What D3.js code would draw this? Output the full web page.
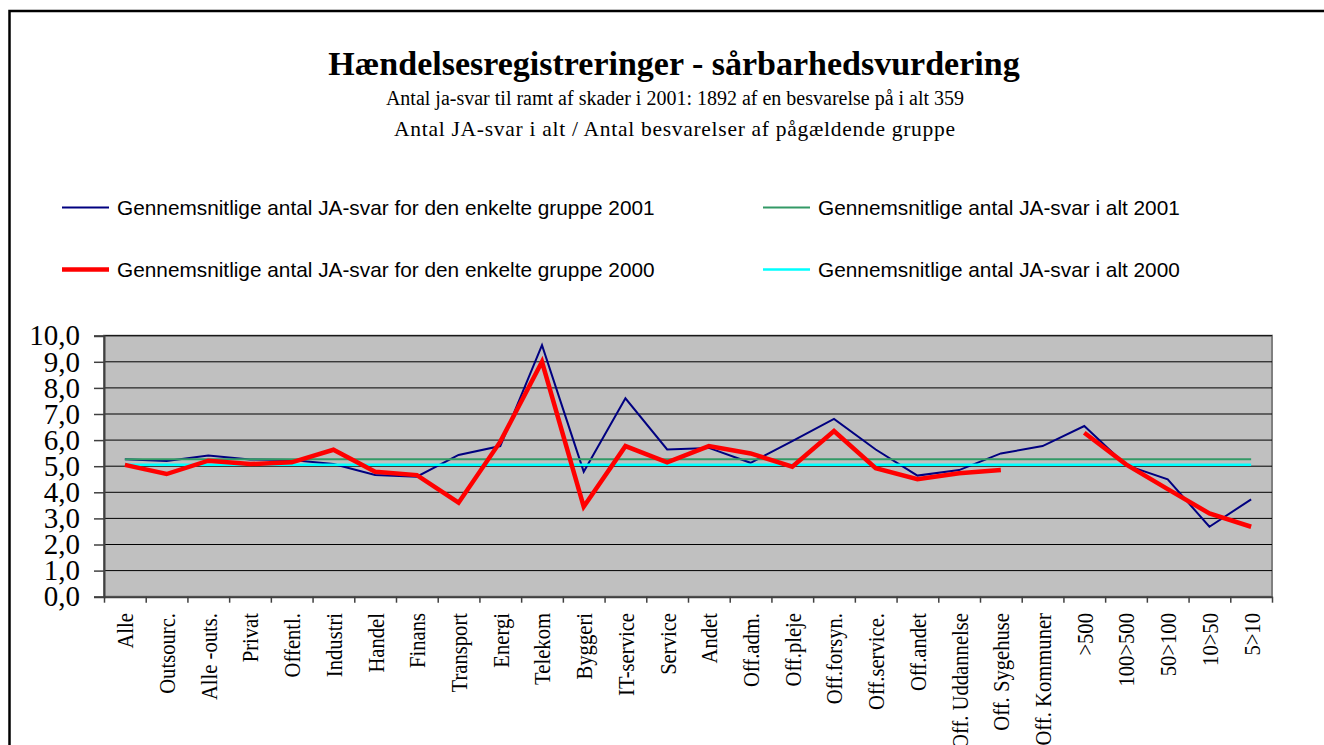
<!DOCTYPE html>
<html>
<head>
<meta charset="utf-8">
<script src="https://cdnjs.cloudflare.com/ajax/libs/d3/7.8.5/d3.min.js"></script>
<style>
    body { margin: 0; background: #fff; }
    svg { display: block; }
</style>
</head>
<body>
<svg id="chart" width="1324" height="745"></svg>
<script>

// categories along the x axis
var categories = ["Alle", "Outsourc.", "Alle -outs.", "Privat", "Offentl.", "Industri", "Handel",
    "Finans", "Transport", "Energi", "Telekom", "Byggeri", "IT-service", "Service", "Andet",
    "Off.adm.", "Off.pleje", "Off.forsyn.", "Off.service.", "Off.andet", "Off. Uddannelse",
    "Off. Sygehuse", "Off. Kommuner", ">500", "100>500", "50>100", "10>50", "5>10"];

// average JA answers per group
var group2001 = [5.27, 5.20, 5.41, 5.26, 5.24, 5.08, 4.66, 4.60, 5.43, 5.77, 9.64, 4.79, 7.60, 5.64,
    5.70, 5.13, 5.96, 6.81, 5.64, 4.64, 4.85, 5.49, 5.77, 6.54, 5.04, 4.50, 2.68, 3.73];
var group2000 = [5.05, 4.70, 5.21, 5.08, 5.15, 5.63, 4.79, 4.66, 3.60, 5.94, 9.00, 3.45, 5.77, 5.15,
    5.77, 5.49, 4.98, 6.35, 4.92, 4.50, 4.73, 4.85, null, 6.28, 5.07, 4.12, 3.19, 2.68];

// overall average, same for every group
var total2001 = [5.27, 5.27, 5.27, 5.27, 5.27, 5.27, 5.27, 5.27, 5.27, 5.27, 5.27, 5.27, 5.27, 5.27,
    5.27, 5.27, 5.27, 5.27, 5.27, 5.27, 5.27, 5.27, 5.27, 5.27, 5.27, 5.27, 5.27, 5.27];
var total2000 = [5.06, 5.06, 5.06, 5.06, 5.06, 5.06, 5.06, 5.06, 5.06, 5.06, 5.06, 5.06, 5.06, 5.06,
    5.06, 5.06, 5.06, 5.06, 5.06, 5.06, 5.06, 5.06, 5.06, 5.06, 5.06, 5.06, 5.06, 5.06];

var yTicks = [0, 1, 2, 3, 4, 5, 6, 7, 8, 9, 10];

var legendLabels = [
    "Gennemsnitlige antal JA-svar for den enkelte gruppe 2001",
    "Gennemsnitlige antal JA-svar i alt 2001",
    "Gennemsnitlige antal JA-svar for den enkelte gruppe 2000",
    "Gennemsnitlige antal JA-svar i alt 2000"
];

var serif = "'Liberation Serif', 'Times New Roman', serif";
var sans = "'Liberation Sans', Arial, sans-serif";

var svg = d3.select("#chart");

// outer frame (runs off the right and bottom edge)
svg.append("rect")
    .attr("x", 9.5).attr("y", 11)
    .attr("width", 1400).attr("height", 800)
    .attr("fill", "none")
    .attr("stroke", "#000")
    .attr("stroke-width", 2.5);

// titles
svg.append("text")
    .attr("x", 674).attr("y", 75)
    .attr("text-anchor", "middle")
    .style("font-family", serif).style("font-size", "34px").style("font-weight", "bold")
    .text("Hændelsesregistreringer - sårbarhedsvurdering");

svg.append("text")
    .attr("x", 675).attr("y", 105)
    .attr("text-anchor", "middle")
    .style("font-family", serif).style("font-size", "20px")
    .text("Antal ja-svar til ramt af skader i 2001: 1892 af en besvarelse på i alt 359");

svg.append("text")
    .attr("x", 394).attr("y", 136)
    .attr("textLength", 561)
    .attr("lengthAdjust", "spacing")
    .style("font-family", serif).style("font-size", "21.5px")
    .text("Antal JA-svar i alt / Antal besvarelser af pågældende gruppe");

// plot area
var plotLeft = 104, plotRight = 1272, plotTop = 335.7, plotBottom = 596.7;

var x = d3.scaleBand().domain(categories).range([plotLeft, plotRight]);
var xEdge = d3.scaleLinear().domain([0, categories.length]).range([plotLeft, plotRight]);
var y = d3.scaleLinear().domain([0, 10]).range([plotBottom, plotTop]);

function cx(i) { return x(categories[i]) + x.bandwidth() / 2; }

svg.append("rect")
    .attr("x", plotLeft).attr("y", plotTop)
    .attr("width", plotRight - plotLeft).attr("height", plotBottom - plotTop)
    .attr("fill", "#c0c0c0")
    .attr("stroke", "#808080")
    .attr("stroke-width", 2);

// gridlines
svg.append("g").selectAll("line")
    .data(yTicks.slice(1))
    .enter().append("line")
    .attr("x1", plotLeft).attr("x2", plotRight)
    .attr("y1", function(d) { return y(d); })
    .attr("y2", function(d) { return y(d); })
    .attr("stroke", "#000")
    .attr("stroke-width", 1);

// y axis
var yAxis = d3.axisLeft(y)
    .tickValues(yTicks)
    .tickSize(10)
    .tickPadding(14)
    .tickFormat(function(d) { return d.toFixed(1).replace(".", ","); });

var gy = svg.append("g")
    .attr("transform", "translate(" + plotLeft + ",0)")
    .call(yAxis);
gy.select(".domain").attr("stroke", "#404040").attr("stroke-width", 2);
gy.selectAll(".tick line").attr("stroke", "#404040").attr("stroke-width", 1.5);
gy.selectAll(".tick text")
    .attr("fill", "#000")
    .style("font-family", serif)
    .style("font-size", "29px");

// x axis, ticks between categories
var xAxis = d3.axisBottom(xEdge)
    .tickValues(d3.range(categories.length + 1))
    .tickSize(6)
    .tickSizeOuter(0)
    .tickFormat("");

var gx = svg.append("g")
    .attr("transform", "translate(0," + plotBottom + ")")
    .call(xAxis);
gx.select(".domain").attr("stroke", "#404040").attr("stroke-width", 2);
gx.selectAll(".tick line").attr("stroke", "#404040").attr("stroke-width", 1.5);

// category labels, rotated
svg.append("g").selectAll("text")
    .data(categories)
    .enter().append("text")
    .attr("transform", function(d, i) {
        return "translate(" + cx(i) + ",613) rotate(-90) scale(0.86,1)";
    })
    .attr("text-anchor", "end")
    .attr("dy", "0.35em")
    .style("font-family", serif)
    .style("font-size", "24px")
    .text(function(d) { return d; });

// series
var series = [
    { values: group2001, color: "#000080", width: 2 },
    { values: total2001, color: "#339966", width: 2 },
    { values: total2000, color: "#00ffff", width: 2.5 },
    { values: group2000, color: "#ff0000", width: 4.5 }
];

var line = d3.line()
    .defined(function(d) { return d !== null; })
    .x(function(d, i) { return cx(i); })
    .y(function(d) { return y(d); });

series.forEach(function(s) {
    svg.append("path")
        .datum(s.values)
        .attr("d", line)
        .attr("fill", "none")
        .attr("stroke", s.color)
        .attr("stroke-width", s.width)
        .attr("stroke-linejoin", "miter");
});

// legend, two columns
var legend = [
    { label: legendLabels[0], color: "#000080", width: 2, lx: 62, ly: 207.5 },
    { label: legendLabels[1], color: "#339966", width: 2, lx: 763, ly: 207.5 },
    { label: legendLabels[2], color: "#ff0000", width: 4.5, lx: 62, ly: 269.5 },
    { label: legendLabels[3], color: "#00ffff", width: 2.5, lx: 763, ly: 269.5 }
];

var lg = svg.append("g").selectAll("g")
    .data(legend)
    .enter().append("g");

lg.append("line")
    .attr("x1", function(d) { return d.lx; })
    .attr("x2", function(d) { return d.lx + 47; })
    .attr("y1", function(d) { return d.ly; })
    .attr("y2", function(d) { return d.ly; })
    .attr("stroke", function(d) { return d.color; })
    .attr("stroke-width", function(d) { return d.width; });

lg.append("text")
    .attr("x", function(d) { return d.lx + 55; })
    .attr("y", function(d) { return d.ly + 7.5; })
    .style("font-family", sans)
    .style("font-size", "20.8px")
    .text(function(d) { return d.label; });

</script>
</body>
</html>
